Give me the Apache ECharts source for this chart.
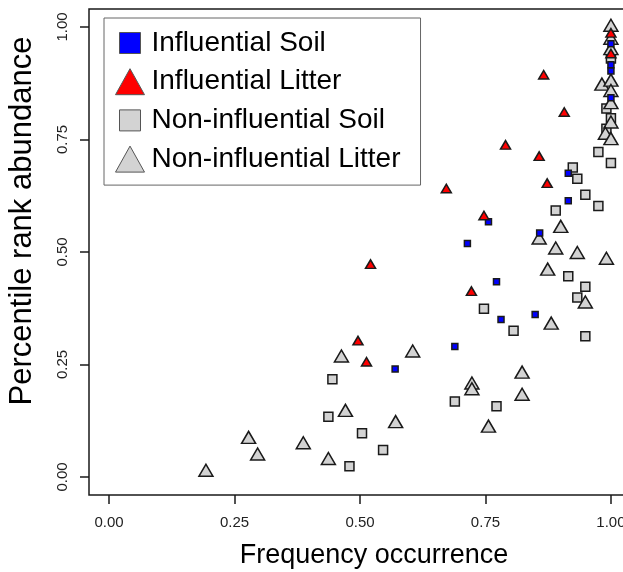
<!DOCTYPE html>
<html>
<head>
<meta charset="utf-8">
<title>Frequency vs percentile rank</title>
<script src="https://cdn.jsdelivr.net/npm/echarts@6/dist/echarts.min.js"></script>
<style>
    html, body {margin: 0; padding: 0; background: #fff;}
    #main {width: 623px; height: 572px;}
</style>
</head>
<body>
<div id="main"></div>
<script>
// 数据: [frequency occurrence, percentile rank abundance]
var inflSoil = [
    [0.915, 0.675], [0.915, 0.614], [0.756, 0.567], [0.714, 0.519], [0.858, 0.542],
    [0.772, 0.434], [0.781, 0.350], [0.849, 0.361], [0.689, 0.290], [0.570, 0.240],
    [1.0, 0.963], [1.0, 0.916], [1.0, 0.902], [1.0, 0.843]
];
var inflLitter = [
    [0.866, 0.894], [0.907, 0.811], [0.790, 0.738], [0.857, 0.713], [0.873, 0.653],
    [0.672, 0.641], [0.747, 0.581], [0.521, 0.473], [0.722, 0.413], [0.496, 0.303],
    [0.513, 0.256], [1.0, 0.987], [1.0, 0.941]
];
var nonSoil = [
    [0.924, 0.688], [0.933, 0.663], [0.975, 0.722], [1.0, 0.698], [0.949, 0.627],
    [0.975, 0.602], [0.890, 0.592], [0.915, 0.446], [0.949, 0.423], [0.933, 0.399],
    [0.949, 0.313], [0.747, 0.374], [0.806, 0.325], [0.445, 0.217], [0.689, 0.168],
    [0.772, 0.157], [0.437, 0.134], [0.504, 0.097], [0.546, 0.060], [0.479, 0.024],
    [0.991, 0.819], [1.0, 0.797], [0.991, 0.774], [1.0, 0.930]
];
var nonLitter = [
    [1.0, 1.004], [1.0, 0.975], [1.0, 0.952], [0.982, 0.873], [1.0, 0.882],
    [1.0, 0.859], [1.0, 0.832], [1.0, 0.789], [0.989, 0.764], [1.0, 0.752],
    [0.900, 0.557], [0.857, 0.531], [0.890, 0.509], [0.933, 0.499], [0.991, 0.486],
    [0.874, 0.462], [0.949, 0.389], [0.881, 0.342], [0.823, 0.233], [0.723, 0.209],
    [0.723, 0.196], [0.823, 0.184], [0.756, 0.113], [0.605, 0.280], [0.463, 0.269],
    [0.471, 0.148], [0.571, 0.123], [0.278, 0.088], [0.296, 0.051], [0.387, 0.076],
    [0.437, 0.041], [0.193, 0.015]
];
var xTicks = [0, 0.25, 0.5, 0.75, 1];
var yTicks = [0, 0.25, 0.5, 0.75, 1];

var font = '"Liberation Sans", Arial, sans-serif';
var edge = '#1a1a1a';

var myChart = echarts.init(document.getElementById('main'));

// 图例图标 (path 的包围盒 29x26)
var iconSquare = 'path://M0,0M29,26M4,2.5h21v21h-21z';
var iconTriangle = 'path://M14.5,0L29,26L0,26Z';

var option = {
    animation: false,
    grid: {
        left: 89,
        top: 9,
        width: 542,
        height: 486,
        show: true,
        borderColor: edge,
        borderWidth: 1.5,
        containLabel: false,
        outerBoundsMode: 'none'   // 右边框超出画布, 不要自动收缩
    },
    legend: {
        orient: 'vertical',
        left: 104,
        top: 18,
        padding: [11, 20, 12, 11],
        itemGap: 10.7,
        itemWidth: 29,
        itemHeight: 26,
        borderColor: '#666',
        borderWidth: 1,
        selectedMode: false,
        itemStyle: {borderColor: '#555', borderWidth: 1},
        textStyle: {fontSize: 28, color: '#000', fontFamily: font, padding: [0, 0, 0, 2]},
        data: [
            {name: 'Influential Soil', icon: iconSquare},
            {name: 'Influential Litter', icon: iconTriangle},
            {name: 'Non-influential Soil', icon: iconSquare},
            {name: 'Non-influential Litter', icon: iconTriangle}
        ]
    },
    xAxis: {
        type: 'value',
        min: -0.04,
        max: 1.04,
        splitLine: {show: false},
        axisLine: {show: false, onZero: false},
        axisTick: {show: true, length: 9, customValues: xTicks, lineStyle: {color: edge, width: 1.5}},
        axisLabel: {
            customValues: xTicks,
            margin: 20,
            fontSize: 15,
            color: '#222',
            fontFamily: font,
            formatter: function (v) { return v.toFixed(2); }
        }
    },
    yAxis: {
        type: 'value',
        min: -0.04,
        max: 1.04,
        splitLine: {show: false},
        axisLine: {show: false, onZero: false},
        axisTick: {show: true, length: 9, customValues: yTicks, lineStyle: {color: edge, width: 1.5}},
        axisLabel: {
            customValues: yTicks,
            rotate: 90,
            margin: 19,
            fontSize: 15,
            color: '#222',
            fontFamily: font,
            formatter: function (v) { return v.toFixed(2); }
        }
    },
    graphic: [
        {
            type: 'text', x: 374, y: 556,
            style: {text: 'Frequency occurrence', fontSize: 27, fontFamily: font, fill: '#000',
                textAlign: 'center', textVerticalAlign: 'middle'}
        },
        {
            type: 'text', x: 22, y: 221, rotation: Math.PI / 2,
            style: {text: 'Percentile rank abundance', fontSize: 31, fontFamily: font, fill: '#000',
                textAlign: 'center', textVerticalAlign: 'middle'}
        }
    ],
    series: [
        {
            name: 'Non-influential Soil',
            type: 'scatter',
            symbol: 'rect',
            symbolSize: 9,
            itemStyle: {color: '#d3d3d3', borderColor: edge, borderWidth: 1.5, opacity: 1},
            data: nonSoil
        },
        {
            name: 'Non-influential Litter',
            type: 'scatter',
            symbol: 'triangle',
            symbolSize: [14, 12],
            itemStyle: {color: '#d3d3d3', borderColor: edge, borderWidth: 1.5, opacity: 1},
            data: nonLitter
        },
        {
            name: 'Influential Soil',
            type: 'scatter',
            symbol: 'rect',
            symbolSize: 6,
            itemStyle: {color: '#0000ff', borderColor: edge, borderWidth: 1.5, opacity: 1},
            data: inflSoil
        },
        {
            name: 'Influential Litter',
            type: 'scatter',
            symbol: 'triangle',
            symbolSize: [10, 8.5],
            itemStyle: {color: '#ff0000', borderColor: edge, borderWidth: 1.5, opacity: 1},
            data: inflLitter
        }
    ]
};

myChart.setOption(option);
</script>
</body>
</html>
